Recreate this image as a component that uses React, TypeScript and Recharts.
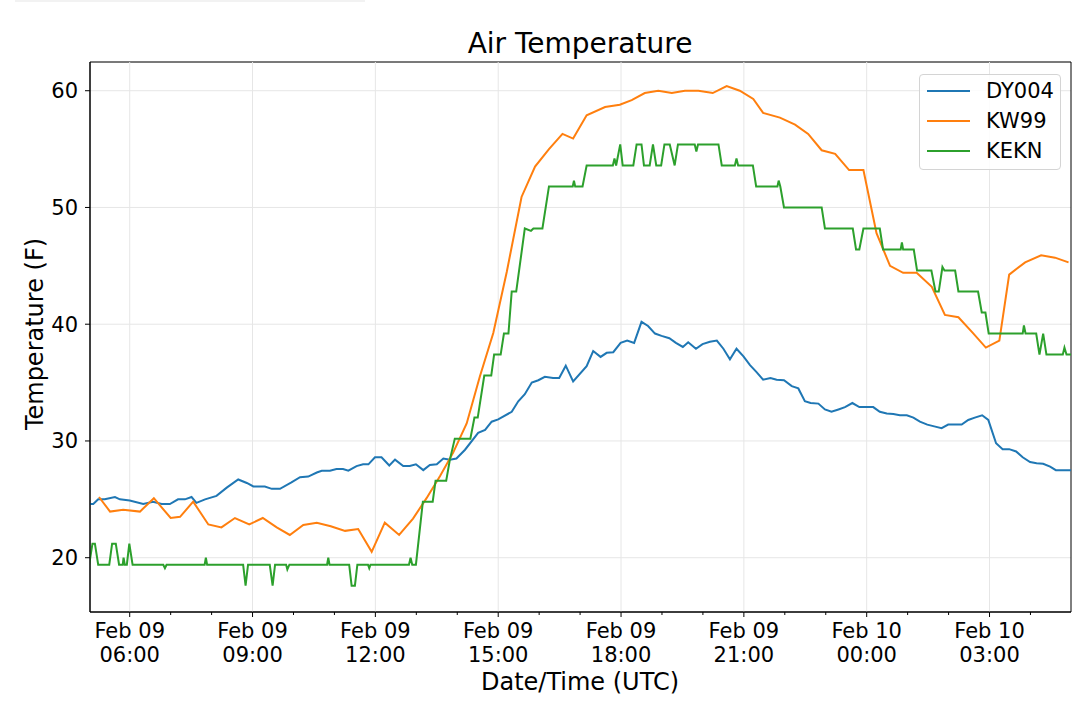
import React from 'react';
import {
  LineChart,
  Line,
  XAxis,
  YAxis,
  CartesianGrid,
  ReferenceLine,
  ReferenceArea,
  Legend,
} from 'recharts';

// hours since Feb 09 00:00 UTC
const dyTime = [
  5.03, 5.11, 5.23, 5.39, 5.64, 5.76, 6.0, 6.33, 6.57, 6.78, 6.98, 7.18, 7.35, 7.51, 7.63, 7.84,
  8.12, 8.37, 8.65, 8.86, 9.02, 9.3, 9.47, 9.67, 9.95, 10.16, 10.36, 10.57, 10.69, 10.89, 11.05,
  11.21, 11.34, 11.54, 11.7, 11.83, 11.99, 12.15, 12.34, 12.48, 12.68, 12.84, 12.99, 13.17, 13.33,
  13.5, 13.66, 13.82, 13.98, 14.19, 14.51, 14.68, 14.84, 15.0, 15.33, 15.49, 15.65, 15.82, 15.98,
  16.14, 16.34, 16.49, 16.65, 16.83, 17.16, 17.32, 17.5, 17.65, 17.81, 17.99, 18.15, 18.32, 18.5,
  18.66, 18.83, 18.99, 19.18, 19.34, 19.51, 19.64, 19.83, 19.99, 20.17, 20.34, 20.5, 20.66, 20.82,
  20.99, 21.15, 21.31, 21.47, 21.65, 21.8, 21.98, 22.17, 22.33, 22.49, 22.63, 22.82, 22.98, 23.14,
  23.31, 23.47, 23.65, 23.82, 24.0, 24.16, 24.32, 24.49, 24.65, 24.81, 24.98, 25.14, 25.3, 25.48,
  25.65, 25.83, 25.99, 26.16, 26.32, 26.48, 26.64, 26.82, 26.97, 27.16, 27.32, 27.48, 27.65, 27.81,
  27.99, 28.15, 28.31, 28.48, 28.62, 28.8, 28.99,
];
const dyTemp = [
  24.6, 24.6, 25.0, 25.0, 25.2, 25.0, 24.9, 24.6, 24.8, 24.6, 24.6, 25.0, 25.0, 25.2, 24.7, 25.0,
  25.3, 26.0, 26.7, 26.4, 26.1, 26.1, 25.9, 25.9, 26.45, 26.9, 26.95, 27.3, 27.45, 27.45, 27.6,
  27.6, 27.45, 27.85, 28.0, 28.0, 28.6, 28.6, 27.9, 28.4, 27.85, 27.85, 28.0, 27.5, 27.95,
  28.0, 28.5, 28.4, 28.5, 29.25, 30.7, 30.95, 31.65, 31.85, 32.5, 33.4, 34.0, 35.0, 35.2,
  35.5, 35.4, 35.4, 36.45, 35.1, 36.4, 37.7, 37.2, 37.55, 37.6, 38.4, 38.6, 38.4, 40.2,
  39.85, 39.2, 39.0, 38.8, 38.4, 38.05, 38.45, 37.9, 38.3, 38.5, 38.6, 37.9, 37.0, 37.9,
  37.25, 36.5, 35.9, 35.25, 35.4, 35.25, 35.2, 34.7, 34.5, 33.4, 33.25, 33.2, 32.7, 32.5,
  32.7, 32.9, 33.25, 32.9, 32.9, 32.9, 32.5, 32.35, 32.3, 32.2, 32.2, 32.0, 31.65, 31.4,
  31.25, 31.1, 31.4, 31.4, 31.4, 31.8, 32.0, 32.2, 31.8, 29.8, 29.3, 29.3, 29.1, 28.6,
  28.2, 28.1, 28.05, 27.8, 27.5, 27.5, 27.5,
];

const kwTime = [
  5.25, 5.52, 5.84, 6.25, 6.59, 7.0, 7.23, 7.55, 7.92, 8.24, 8.57, 8.92, 9.25, 9.59, 9.91, 10.24,
  10.57, 10.91, 11.26, 11.58, 11.91, 12.23, 12.58, 12.92, 13.25, 13.58, 13.9, 14.23, 14.55, 14.88,
  15.21, 15.57, 15.9, 16.24, 16.57, 16.83, 17.16, 17.61, 17.97, 18.26, 18.58, 18.91, 19.24, 19.56,
  19.89, 20.24, 20.58, 20.9, 21.23, 21.47, 21.88, 22.25, 22.57, 22.9, 23.23, 23.57, 23.92, 24.24,
  24.57, 24.89, 25.22, 25.59, 25.91, 26.24, 26.58, 26.91, 27.24, 27.48, 27.87, 28.26, 28.6, 28.93,
];
const kwTemp = [
  25.2, 23.95, 24.1, 23.95, 25.1, 23.4, 23.5, 24.8, 22.85, 22.6, 23.4, 22.85, 23.4, 22.6, 21.95, 22.8,
  23.0, 22.7, 22.3, 22.45, 20.5, 23.0, 21.95, 23.35, 25.1, 27.0, 29.0, 31.5, 35.5, 39.25,
  44.5, 50.9, 53.5, 55.0, 56.3, 55.9, 57.9, 58.6, 58.8, 59.2, 59.8, 60.0, 59.8, 60.0,
  60.0, 59.8, 60.4, 60.0, 59.3, 58.1, 57.7, 57.1, 56.3, 54.9, 54.6, 53.2, 53.2, 47.8,
  45.0, 44.4, 44.4, 43.2, 40.8, 40.6, 39.3, 38.0, 38.6, 44.25, 45.3, 45.9, 45.7, 45.3,
];

const ekTime = [
  5.01, 5.09, 5.15, 5.23, 5.5, 5.57, 5.66, 5.74, 5.83, 5.85, 5.88, 5.93, 5.99, 6.07, 6.82, 6.86,
  6.9, 7.83, 7.86, 7.89, 8.77, 8.83, 8.89, 9.42, 9.49, 9.55, 9.82, 9.85, 9.9, 10.82, 10.85, 10.88,
  11.36, 11.42, 11.5, 11.56, 11.82, 11.85, 11.88, 12.82, 12.86, 12.9, 12.99, 13.16, 13.4, 13.47,
  13.73, 13.82, 13.94, 14.32, 14.42, 14.5, 14.66, 14.83, 14.9, 15.06, 15.14, 15.25, 15.33, 15.44,
  15.65, 15.8, 15.86, 16.08, 16.24, 16.82, 16.85, 16.88, 17.06, 17.16, 17.8, 17.84, 17.88, 17.98,
  18.04, 18.3, 18.38, 18.5, 18.56, 18.7, 18.78, 18.86, 18.98, 19.06, 19.19, 19.31, 19.39, 19.8,
  19.84, 19.88, 20.38, 20.46, 20.78, 20.82, 20.86, 21.22, 21.3, 21.82, 21.85, 21.89, 21.98, 22.9,
  22.98, 23.66, 23.74, 23.82, 23.92, 24.32, 24.4, 24.83, 24.86, 24.89, 25.15, 25.23, 25.58, 25.68,
  25.76, 25.85, 25.9, 26.16, 26.24, 26.72, 26.81, 26.9, 26.98, 27.81, 27.84, 27.88, 28.14, 28.22,
  28.31, 28.39, 28.79, 28.83, 28.88, 28.99,
];
const ekTemp = [
  19.4, 21.2, 21.2, 19.4, 19.4, 21.2, 21.2, 19.4, 19.4, 20.0, 19.4, 19.4, 21.2, 19.4, 19.4, 19.1,
  19.4, 19.4, 20.0, 19.4, 19.4, 17.6, 19.4, 19.4, 17.6, 19.4, 19.4, 19.0, 19.4, 19.4, 20.0, 19.4,
  19.4, 17.6, 17.6, 19.4, 19.4, 19.1, 19.4, 19.4, 20.0, 19.4, 19.4, 24.8, 24.8, 26.6,
  26.6, 28.4, 30.2, 30.2, 32.0, 32.0, 35.6, 35.6, 37.4, 37.4, 39.2, 39.2, 42.8, 42.8,
  48.2, 48.0, 48.2, 48.2, 51.8, 51.8, 52.3, 51.8, 51.8, 53.6, 53.6, 54.2, 53.6, 55.4,
  53.6, 53.6, 55.4, 55.4, 53.6, 53.6, 55.4, 53.6, 53.6, 55.4, 55.4, 53.6, 55.4, 55.4,
  54.8, 55.4, 55.4, 53.6, 53.6, 54.2, 53.6, 53.6, 51.8, 51.8, 52.3, 51.8, 50.0, 50.0,
  48.2, 48.2, 46.4, 46.4, 48.2, 48.2, 46.4, 46.4, 47.0, 46.4, 46.4, 44.6, 44.6, 42.8,
  42.8, 44.9, 44.6, 44.6, 42.8, 42.8, 41.0, 41.0, 39.2, 39.2, 39.9, 39.2, 39.2, 37.4,
  39.2, 37.4, 37.4, 38.0, 37.4, 37.4,
];

const seriesNames = ['DY004', 'KW99', 'KEKN'];
const hourTicks = [6, 7, 8, 9, 10, 11, 12, 13, 14, 15, 16, 17, 18, 19, 20, 21, 22, 23, 24, 25, 26, 27, 28];
const majorHours = [6, 9, 12, 15, 18, 21, 24, 27];
const majorDates = ['Feb 09', 'Feb 09', 'Feb 09', 'Feb 09', 'Feb 09', 'Feb 09', 'Feb 10', 'Feb 10'];
const majorTimes = ['06:00', '09:00', '12:00', '15:00', '18:00', '21:00', '00:00', '03:00'];
const tempTicks = [20, 30, 40, 50, 60];

const X_DOMAIN = [5.03, 28.99];
const Y_DOMAIN = [15.35, 62.46];
const FONT = '"DejaVu Sans", sans-serif';

const toPoints = (time: number[], temp: number[]) => time.map((h, i) => ({ h, v: temp[i] }));

const dyData = toPoints(dyTime, dyTemp);
const kwData = toPoints(kwTime, kwTemp);
const ekData = toPoints(ekTime, ekTemp);

const HourTick = (props: any) => {
  const { x, y, payload } = props;
  const idx = majorHours.indexOf(payload.value);
  if (idx < 0) {
    return <line x1={x} x2={x} y1={y} y2={y + 3} stroke="#000" strokeWidth={1} />;
  }
  return (
    <g>
      <line x1={x} x2={x} y1={y} y2={y + 5} stroke="#000" strokeWidth={1} />
      <text x={x} y={y + 26} textAnchor="middle" fontSize={21} fontFamily={FONT} fill="#000">
        {majorDates[idx]}
      </text>
      <text x={x} y={y + 50} textAnchor="middle" fontSize={21} fontFamily={FONT} fill="#000">
        {majorTimes[idx]}
      </text>
    </g>
  );
};

const LegendBox = ({ payload }: any) => {
  const items = [...(payload || [])].sort(
    (a: any, b: any) => seriesNames.indexOf(a.value) - seriesNames.indexOf(b.value)
  );
  return (
    <div
      style={{
        width: 140,
        height: 93,
        border: '1px solid #d4d4d4',
        borderRadius: 4,
        background: 'rgba(255,255,255,0.85)',
        fontFamily: FONT,
        fontSize: 21,
        color: '#000',
        paddingTop: 1,
        boxSizing: 'content-box',
      }}
    >
      {items.map((entry: any) => (
        <div key={entry.value} style={{ height: 30, display: 'flex', alignItems: 'center' }}>
          <svg width={60} height={30} style={{ display: 'block' }}>
            <line x1={7} x2={50} y1={15} y2={15} stroke={entry.color} strokeWidth={2} />
          </svg>
          <span style={{ marginLeft: 6, lineHeight: '30px' }}>{entry.value}</span>
        </div>
      ))}
    </div>
  );
};

export default function App() {
  return (
    <div style={{ position: 'absolute', left: 0, top: 0, width: 1080, height: 705, background: '#fff' }}>
      <div style={{ position: 'absolute', left: 15, top: 0, width: 350, height: 2, background: '#f2f2f2' }} />
      <LineChart width={1080} height={705} margin={{ top: 62, right: 9, bottom: 0, left: 0 }}>
        <CartesianGrid vertical={false} stroke="#e6e6e6" strokeWidth={1} />
        {majorHours.map((h) => (
          <ReferenceLine key={h} x={h} stroke="#e6e6e6" strokeWidth={1} />
        ))}
        <XAxis
          type="number"
          dataKey="h"
          domain={X_DOMAIN}
          allowDataOverflow
          ticks={hourTicks}
          interval={0}
          tickSize={0}
          tickMargin={0}
          tickLine={false}
          tick={HourTick}
          axisLine={{ stroke: '#000', strokeWidth: 1 }}
          height={93}
        />
        <YAxis
          type="number"
          domain={Y_DOMAIN}
          allowDataOverflow
          ticks={tempTicks}
          interval={0}
          width={90}
          tickSize={5}
          tickMargin={7}
          tickLine={{ stroke: '#000', strokeWidth: 1 }}
          axisLine={{ stroke: '#000', strokeWidth: 1 }}
          tick={{ fill: '#000', fontSize: 21, fontFamily: FONT }}
        />
        <Line data={dyData} dataKey="v" name={seriesNames[0]} type="linear" stroke="#1f77b4" strokeWidth={2} dot={false} isAnimationActive={false} />
        <Line data={kwData} dataKey="v" name={seriesNames[1]} type="linear" stroke="#ff7f0e" strokeWidth={2} dot={false} isAnimationActive={false} />
        <Line data={ekData} dataKey="v" name={seriesNames[2]} type="linear" stroke="#2ca02c" strokeWidth={2} dot={false} isAnimationActive={false} />
        <ReferenceArea
          x1={X_DOMAIN[0]}
          x2={X_DOMAIN[1]}
          y1={Y_DOMAIN[0]}
          y2={Y_DOMAIN[1]}
          fill="none"
          stroke="#000"
          strokeWidth={1}
        />
        <Legend
          layout="vertical"
          align="center"
          verticalAlign="middle"
          content={LegendBox}
          wrapperStyle={{ left: 919, top: 74, width: 142, height: 95 }}
        />
      </LineChart>
      <svg
        width={1080}
        height={705}
        style={{ position: 'absolute', left: 0, top: 0, pointerEvents: 'none' }}
      >
        <text x={580} y={53} textAnchor="middle" fontSize={28} fontFamily={FONT} fill="#000">
          Air Temperature
        </text>
        <text x={580} y={690} textAnchor="middle" fontSize={24} fontFamily={FONT} fill="#000">
          Date/Time (UTC)
        </text>
        <text
          x={43}
          y={334}
          textAnchor="middle"
          fontSize={24}
          fontFamily={FONT}
          fill="#000"
          transform="rotate(-90 43 334)"
        >
          Temperature (F)
        </text>
      </svg>
    </div>
  );
}
